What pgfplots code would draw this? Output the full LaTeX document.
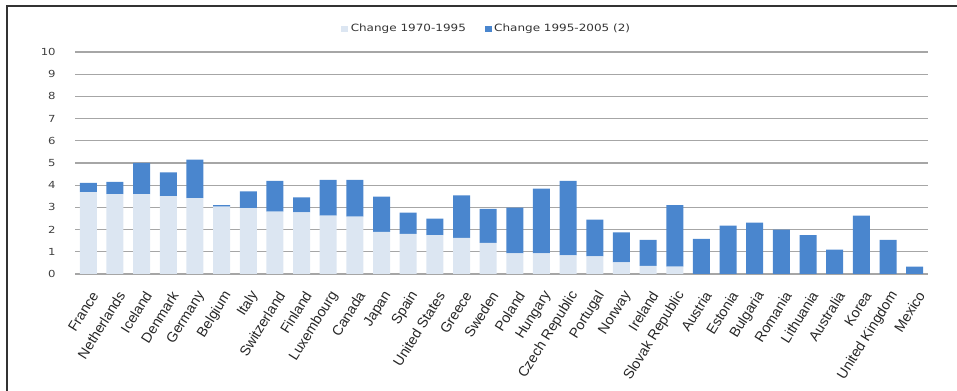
\documentclass[border=0pt]{standalone}
\usepackage{pgfplots}
\pgfplotsset{compat=1.18}
\usepackage{pgfplotstable}
\usepackage{fontspec}
\setmainfont{Liberation Sans}
\newfontfamily\legfont[FakeStretch=1.2]{DejaVu Sans}
\definecolor{lightbar}{HTML}{DCE6F2}
\definecolor{darkbar}{HTML}{4A86CE}
\definecolor{gridgray}{HTML}{A6A6A6}

% Change in the indicator, 1970-1995 and 1995-2005, by country
\pgfplotstableread{
idx early late
0  3.69 0.41
1  3.60 0.55
2  3.60 1.40
3  3.51 1.07
4  3.42 1.73
5  3.04 0.06
6  2.97 0.75
7  2.81 1.38
8  2.78 0.67
9  2.63 1.61
10 2.58 1.66
11 1.90 1.59
12 1.81 0.95
13 1.75 0.74
14 1.63 1.91
15 1.40 1.53
16 0.93 2.06
17 0.93 2.91
18 0.84 3.35
19 0.79 1.66
20 0.52 1.36
21 0.37 1.17
22 0.33 2.77
23 0.00 1.58
24 0.00 2.18
25 0.00 2.31
26 0.00 2.00
27 0.00 1.75
28 0.00 1.10
29 0.00 2.63
30 0.00 1.54
31 0.00 0.33
}\datatable

\begin{document}
\begin{tikzpicture}
\useasboundingbox (0,0) rectangle (717.75pt,293.25pt);
\draw[line width=1.2pt, color=black!80] (5.25pt,0pt) -- (5.25pt,288.75pt) -- (717.75pt,288.75pt);
\begin{axis}[
  at={(56.25pt,87.75pt)}, anchor=south west,
  scale only axis, width=639.75pt, height=166.5pt,
  ybar stacked, bar width=12.75pt,
  xmin=-0.5, xmax=31.5, ymin=0, ymax=10,
  ytick={0,...,10},
  xtick=data,
  xticklabels={France,Netherlands,Iceland,Denmark,Germany,Belgium,Italy,Switzerland,Finland,Luxembourg,Canada,Japan,Spain,United States,Greece,Sweden,Poland,Hungary,Czech Republic,Portugal,Norway,Ireland,Slovak Republic,Austria,Estonia,Bulgaria,Romania,Lithuania,Australia,Korea,United Kingdom,Mexico},
  axis line style={draw=none},
  tick style={draw=none},
  major tick length=0pt,
  ymajorgrids,
  grid style={gridgray, line width=0.9pt},
  /pgf/number format/assume math mode=true,
  yticklabel style={font=\legfont\fontsize{7.3}{8}\selectfont, color=black!75, anchor=east, xshift=-11pt},
  xticklabel style={font=\fontsize{10.6}{12}\selectfont, color=black!85, inner sep=0pt, anchor=east, xshift=5pt, yshift=-14pt, rotate=58},
  legend style={at={(0.483,1.1036)}, anchor=center, draw=none, fill=none,
    legend columns=2, font=\legfont\fontsize{7.5}{9}\selectfont, text=black!80,
    /tikz/every even column/.append style={column sep=12pt}},
  legend image code/.code={\fill[#1] (0pt,-2.6pt) rectangle (5.2pt,2.6pt);},
]
\addplot[fill=lightbar, draw=none] table[x=idx, y=early] {\datatable};
\addplot[fill=darkbar, draw=none] table[x=idx, y=late] {\datatable};
\legend{Change 1970-1995, Change 1995-2005 (2)}
\end{axis}
\end{tikzpicture}
\end{document}
